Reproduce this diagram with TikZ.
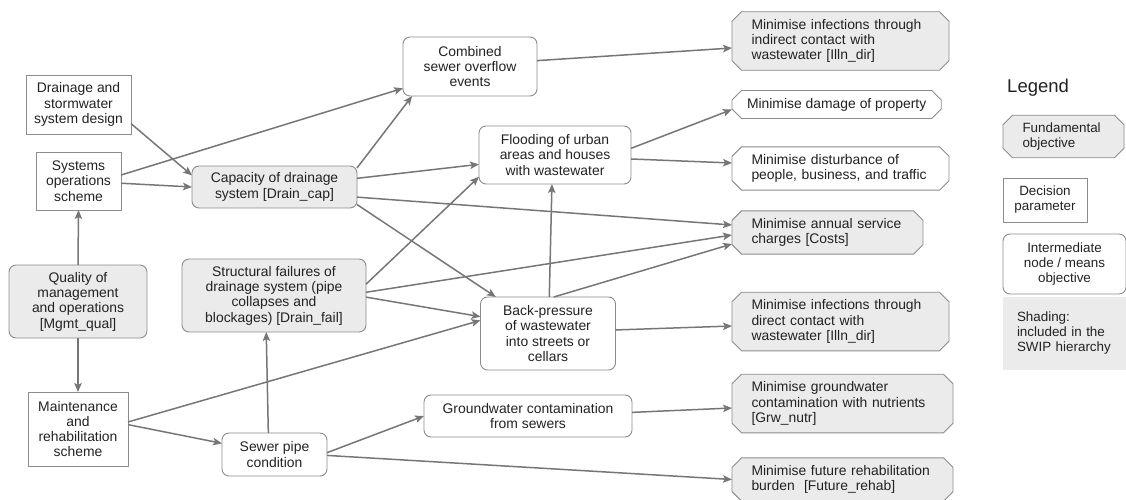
\documentclass[tikz,border=0pt]{standalone}
\usepackage{fontspec}
\setmainfont{Liberation Sans}
\usetikzlibrary{arrows.meta,shapes.misc}
\definecolor{linegray}{HTML}{767676}
\definecolor{framegray}{HTML}{8C8C8C}
\definecolor{shadegray}{HTML}{EBEBEB}
\definecolor{inkgray}{HTML}{222222}
\tikzset{
  base/.style={draw=framegray, line width=0.9pt, text=inkgray, align=center, inner sep=2pt, outer sep=0pt, font=\fontsize{13.9}{15.3}\selectfont},
  decision/.style={base, rectangle},
  means/.style={base, rounded corners=7pt},
  shaded/.style={fill=shadegray},
  fundamental/.style={base, chamfered rectangle, chamfered rectangle xsep=6pt, inner xsep=13.5pt, inner ysep=4pt, align=left, text width=#1, anchor=west, fill=shadegray},
  fundamental/.default=178,
  link/.style={draw=linegray, line width=1.5pt, -{Stealth[length=9pt,width=7.5pt,inset=2pt]}},
  keyfont/.style={font=\fontsize{13.4}{15}\selectfont}
}
\begin{document}
\begin{tikzpicture}[x=1pt,y=-1pt]
\useasboundingbox (0,0) rectangle (1126,500);

\node[decision, minimum width=105, minimum height=59] (design) at (78.5,104.5) {Drainage and\\stormwater\\system design};
\node[decision, minimum width=85, minimum height=58] (ops) at (78.5,181) {Systems\\operations\\scheme};
\node[means, shaded, minimum width=138, minimum height=73] (mgmt) at (78,301.5) {Quality of\\management\\and operations\\{[}Mgmt\_qual{]}};
\node[decision, minimum width=100, minimum height=74] (maint) at (78,429) {Maintenance\\and\\rehabilitation\\scheme};

\node[means, shaded, minimum width=165, minimum height=42] (cap) at (274.5,187) {Capacity of drainage\\system {[}Drain\_cap{]}};
\node[means, shaded, minimum width=184, minimum height=73] (fail) at (274,295.5) {Structural failures of\\drainage system (pipe\\collapses and\\blockages) {[}Drain\_fail{]}};
\node[means, minimum width=105, minimum height=43] (pipe) at (274.5,454.5) {Sewer pipe\\condition};

\node[means, minimum width=134, minimum height=59] (cso) at (470,66.5) {Combined\\sewer overflow\\events};
\node[means, minimum width=152, minimum height=58] (flood) at (555,155) {Flooding of urban\\areas and houses\\with wastewater};
\node[means, minimum width=135, minimum height=73] (back) at (548,333.5) {Back-pressure\\of wastewater\\into streets or\\cellars};
\node[means, minimum width=208, minimum height=42] (grw) at (528,416) {Groundwater contamination\\from sewers};

\node[fundamental] (illind) at (732,41) {Minimise infections through\\indirect contact with\\wastewater {[}Illn\_dir{]}};
\node[fundamental={}, fill=white, inner xsep=9pt] (damage) at (732,104.5) {Minimise damage of property};
\node[fundamental, fill=white] (disturb) at (732,168.5) {Minimise disturbance of\\people, business, and traffic};
\node[fundamental=152] (costs) at (732,232.5) {Minimise annual service\\charges {[}Costs{]}};
\node[fundamental] (illdir) at (732,321.5) {Minimise infections through\\direct contact with\\wastewater {[}Illn\_dir{]}};
\node[fundamental=182] (grwnutr) at (732,403.5) {Minimise groundwater\\contamination with nutrients\\{[}Grw\_nutr{]}};
\node[fundamental=182] (rehab) at (732,479.5) {Minimise future rehabilitation\\burden\ \ {[}Future\_rehab{]}};

\draw[link] (design.-20) -- (cap.172);
\draw[link] (ops.-3) -- (cap.west);
\draw[link] (ops.8) -- (cso.198);
\draw[link] (cap.13) -- (cso.207);
\draw[link] (cap.6) -- (flood.187);
\draw[link] (cap.-7) -- ([yshift=7.5pt]costs.west);
\draw[link] (cap.-12) -- (back.145);
\draw[link] (mgmt.north) -- (ops.south);
\draw[link] (mgmt.south) -- (maint.north);
\draw[link] (fail.7) -- (flood.196);
\draw[link] (fail.2) -- ([yshift=-2.5pt]costs.west);
\draw[link] (fail.-1) -- (back.166);
\draw[link] (maint.8) -- (back.169);
\draw[link] (maint.5) -- (pipe.168);
\draw[link] (pipe.106) -- (fail.258);
\draw[link] (pipe.2) -- (grw.west);
\draw[link] (pipe.-1) -- (rehab.west);
\draw[link] (cso.5) -- ([yshift=-7pt]illind.west);
\draw[link] (flood.5) -- ([yshift=-5pt]damage.west);
\draw[link] (flood.-3) -- ([yshift=5.5pt]disturb.west);
\draw[link] (back.88) -- (flood.264);
\draw[link] (back.81) -- ([yshift=-11.5pt]costs.west);
\draw[link] (back.3) -- ([yshift=-4.5pt]illdir.west);
\draw[link] (grw.2) -- ([yshift=-4.5pt]grwnutr.west);

% legend
\node[anchor=west, text=inkgray, inner sep=0pt, font=\fontsize{18.5}{20}\selectfont] (legend) at (1007,88) {Legend};
\node[fundamental=82, keyfont] (keyfund) at (1003,136.5) {Fundamental\\objective};
\node[decision, keyfont, minimum width=84, minimum height=44] (keydec) at (1045,200) {Decision\\parameter};
\node[means, keyfont, minimum width=123, minimum height=60] (keymeans) at (1064.5,264) {Intermediate\\node / means\\objective};
\node[base, keyfont, draw=none, shaded, minimum width=123, minimum height=73, text width=95, align=left] (keyshade) at (1064.5,333.5) {Shading:\\included in the\\SWIP hierarchy};
\end{tikzpicture}
\end{document}
